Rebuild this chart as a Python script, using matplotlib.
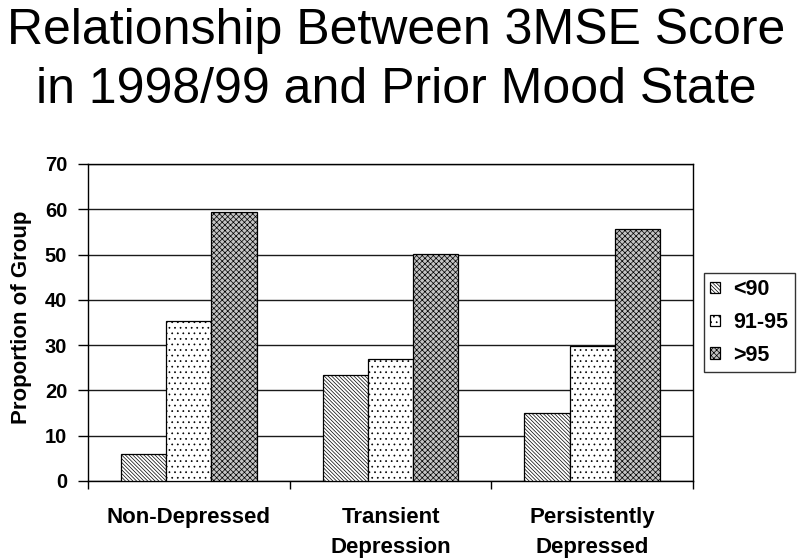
import matplotlib
matplotlib.use("Agg")
import matplotlib.pyplot as plt
import numpy as np

categories = ["Non-Depressed", "Transient\nDepression", "Persistently\nDepressed"]
series_names = ["<90", "91-95", ">95"]
lt90 = [5.9, 23.3, 15.0]
mid = [35.3, 27.0, 29.8]
gt95 = [59.3, 50.1, 55.7]
yticks = [0, 10, 20, 30, 40, 50, 60, 70]

plt.rcParams['font.family'] = ['Liberation Sans', 'DejaVu Sans']
plt.rcParams['hatch.linewidth'] = 0.5

fig = plt.figure(figsize=(8, 5.59), dpi=100)
ax = fig.add_axes([88/800, 1-481/559, 605/800, (481-164)/559])

x = np.arange(len(categories))
w = 0.224
styles = [
    dict(facecolor="white", hatch="\\" * 9),
    dict(facecolor="white", hatch="..."),
    dict(facecolor="#c4c4c4", hatch="x" * 6),
]
data = [lt90, mid, gt95]
for i, (vals, name, st) in enumerate(zip(data, series_names, styles)):
    ax.bar(x + (i - 1) * w, vals, width=w, label=name, edgecolor="black",
           linewidth=0.9, zorder=3, **st)

ax.set_xlim(-0.5, 2.5)
ax.set_ylim(0, 70)
ax.set_yticks(yticks)
ax.set_yticklabels([str(t) for t in yticks], fontsize=14.5, fontweight="bold")
ax.yaxis.grid(True, color="#1a1a1a", linewidth=1.0, zorder=0)
ax.tick_params(axis="y", direction="out", length=7, width=1, pad=8, left=True)

ax.set_xticks(x)
ax.set_xticklabels(categories, fontsize=16, fontweight="bold", linespacing=1.56, va="top")
ax.tick_params(axis="x", which="major", length=0, pad=19)
ax.set_xticks([-0.5, 0.5, 1.5, 2.5], minor=True)
ax.tick_params(axis="x", which="minor", length=6, width=1, direction="out")

for s in ax.spines.values():
    s.set_color("black")
    s.set_linewidth(1.0)

ax.set_ylabel("Proportion of Group", fontsize=16, fontweight="bold")
ax.yaxis.set_label_coords((32 - 88) / 605, 0.517)

fig.text(0.495, 1 - 8/559, "Relationship Between 3MSE Score\nin 1998/99 and Prior Mood State",
         fontsize=36, ha="center", va="top", linespacing=1.36)

leg = fig.legend(loc="center left", bbox_to_anchor=(704/800, 1-322.5/559),
                 prop={"weight": "bold", "size": 15.5},
                 frameon=True, fancybox=False, edgecolor="black",
                 handlelength=0.45, handleheight=0.45, handletextpad=0.6,
                 labelspacing=0.55, borderpad=0.3, borderaxespad=0)
leg.get_frame().set_linewidth(1.0)

fig.savefig("out.png", dpi=100)
